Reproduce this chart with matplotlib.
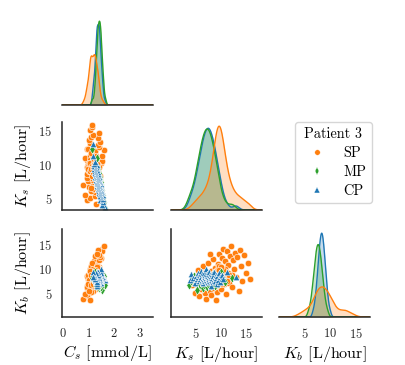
import numpy as np
import matplotlib
matplotlib.use('Agg')
import matplotlib.pyplot as plt
from matplotlib.lines import Line2D

plt.rcParams['font.family'] = 'serif'
plt.rcParams['font.serif'] = ['cmr10']
plt.rcParams['mathtext.fontset'] = 'cm'
plt.rcParams['axes.formatter.use_mathtext'] = True

# Data (SP / MP / CP for patient 3)
groups = ['SP', 'MP', 'CP']

sp_cs = [1.29, 0.95, 1.06, 1.24, 0.85, 1.24, 1.10, 1.22, 1.01, 1.40,
         0.80, 1.19, 1.21, 0.97, 1.17, 1.12, 0.92, 1.35, 1.43, 1.15,
         0.94, 1.37, 1.05, 1.03, 1.33, 1.09, 1.12, 1.29, 0.92, 1.38,
         1.10, 1.30, 1.40, 0.98, 1.07, 1.47, 1.17, 1.51, 0.95, 1.23,
         1.23, 1.30, 0.86, 1.54, 1.05, 1.24, 1.19, 1.25, 1.26, 1.59,
         0.92, 1.41, 1.07, 1.38, 1.05, 1.46, 1.03, 1.35, 1.11, 1.18,
         1.39, 1.05, 1.14, 1.12, 1.34, 1.10, 1.28, 1.07, 1.31, 1.13,
         1.25, 1.22, 1.10, 1.07, 1.43, 0.98, 1.10, 1.28, 1.22, 1.16,
         1.04, 1.34, 1.13, 1.31, 1.01, 1.37, 1.16, 1.25, 1.07, 1.31,
         1.19, 0.98, 1.37, 1.13, 1.28, 1.04, 1.22, 1.40, 1.10, 1.19,
         1.22, 1.31, 1.13, 1.25, 1.34, 1.19, 1.28, 1.10, 1.22, 1.31,
         1.16, 1.25]
sp_ks = [4.2, 4.8, 5.1, 5.5, 5.6, 6.0, 6.2, 6.4, 6.8, 6.9,
         7.1, 7.2, 7.4, 7.6, 7.8, 8.0, 8.1, 8.3, 8.4, 8.6,
         8.7, 8.9, 9.0, 9.1, 9.2, 9.3, 9.4, 9.5, 9.6, 9.7,
         9.8, 9.9, 10.0, 10.1, 10.2, 10.3, 10.4, 10.5, 10.6, 10.7,
         10.8, 10.9, 11.0, 11.2, 11.3, 11.5, 11.6, 11.8, 12.0, 12.1,
         12.3, 12.5, 12.7, 12.9, 13.1, 13.3, 13.6, 13.8, 14.0, 14.3,
         14.6, 15.0, 15.4, 15.8, 7.9, 6.6, 8.5, 9.0, 9.8, 10.4,
         8.2, 11.0, 9.3, 10.1, 7.5, 12.2, 9.6, 10.7, 8.8, 9.9,
         10.6, 8.1, 11.4, 9.5, 10.2, 8.9, 9.2, 9.7, 10.3, 8.7,
         10.9, 9.4, 10.0, 8.4, 11.2, 9.0, 10.5, 9.6, 11.7, 8.9,
         9.1, 9.4, 9.8, 10.2, 9.6, 8.9, 10.5, 9.3, 9.9, 10.1,
         9.5, 9.7]
sp_kb = [6.8, 5.2, 8.5, 9.9, 4.4, 6.0, 7.6, 10.6, 5.1, 8.9,
         3.9, 6.7, 11.3, 7.9, 5.6, 9.6, 4.6, 7.2, 12.0, 8.4,
         6.1, 10.2, 3.6, 7.7, 9.1, 5.4, 11.0, 8.0, 6.6, 13.1,
         8.8, 7.3, 10.5, 5.9, 9.4, 12.3, 7.9, 14.2, 8.6, 6.9,
         11.6, 9.9, 4.9, 13.6, 8.2, 10.8, 7.1, 12.7, 9.0, 14.8,
         6.3, 11.9, 10.1, 13.3, 8.4, 12.4, 5.6, 14.0, 10.7, 7.6,
         12.9, 9.3, 11.2, 8.0, 13.0, 9.3, 8.0, 8.6, 7.9, 9.0,
         8.9, 8.5, 9.6, 8.2, 8.3, 8.7, 7.4, 9.3, 8.2, 8.9,
         7.8, 7.6, 9.2, 8.4, 7.7, 9.4, 7.6, 8.9, 9.5, 7.3,
         10.0, 6.9, 10.3, 8.5, 7.5, 9.7, 8.0, 9.2, 8.7, 6.6,
         7.4, 10.1, 6.9, 9.7, 10.6, 7.2, 9.9, 6.8, 8.5, 10.4,
         7.0, 9.8]

mp_cs = [1.66, 1.55, 1.59, 1.47, 1.58, 1.52, 1.46, 1.57, 1.48, 1.53,
         1.42, 1.49, 1.53, 1.42, 1.49, 1.38, 1.50, 1.44, 1.39, 1.50,
         1.41, 1.47, 1.36, 1.43, 1.47, 1.37, 1.43, 1.33, 1.44, 1.39,
         1.33, 1.45, 1.35, 1.40, 1.30, 1.36, 1.41, 1.30, 1.36, 1.25,
         1.36, 1.30, 1.24, 1.31, 1.15]
mp_ks = [3.7, 4.0, 4.60, 4.89, 5.12, 5.33, 5.50, 5.65, 5.80, 5.94,
         6.06, 6.18, 6.30, 6.42, 6.52, 6.62, 6.72, 6.82, 6.93, 7.01,
         7.11, 7.20, 7.30, 7.40, 7.49, 7.59, 7.67, 7.78, 7.88, 7.98,
         8.08, 8.18, 8.30, 8.42, 8.54, 8.66, 8.80, 8.95, 9.10, 9.27,
         9.48, 9.71, 10.0, 10.9, 12.3]
mp_kb = [6.67, 7.60, 8.53, 7.07, 7.87, 5.77, 7.38, 8.18, 6.75, 7.65,
         8.62, 7.13, 7.92, 6.14, 7.42, 8.24, 6.82, 7.69, 8.74, 7.18,
         7.97, 6.33, 7.46, 8.30, 6.90, 7.74, 8.87, 7.23, 8.02, 6.46,
         7.51, 8.38, 6.96, 7.78, 9.06, 7.28, 8.07, 6.58, 7.55, 8.45,
         7.02, 7.82, 9.43, 7.33, 8.13]

cp_cs = [1.64, 1.51, 1.56, 1.44, 1.56, 1.50, 1.43, 1.56, 1.44, 1.51,
         1.39, 1.47, 1.52, 1.41, 1.47, 1.35, 1.48, 1.43, 1.37, 1.50,
         1.39, 1.44, 1.34, 1.42, 1.47, 1.35, 1.42, 1.31, 1.43, 1.38,
         1.33, 1.46, 1.34, 1.41, 1.30, 1.37, 1.42, 1.31, 1.38, 1.26,
         1.39, 1.34, 1.28, 1.41, 1.30, 1.35, 1.25, 1.31, 1.37, 1.26,
         1.31, 1.21, 1.33, 1.28, 1.21, 1.33, 1.21, 1.26, 1.16, 1.17]
cp_ks = [3.8, 4.17, 4.56, 4.83, 5.05, 5.24, 5.39, 5.55, 5.68, 5.80,
         5.92, 6.02, 6.12, 6.21, 6.31, 6.40, 6.48, 6.57, 6.65, 6.74,
         6.80, 6.89, 6.96, 7.04, 7.11, 7.18, 7.25, 7.33, 7.40, 7.47,
         7.53, 7.60, 7.67, 7.75, 7.82, 7.89, 7.96, 8.04, 8.11, 8.20,
         8.26, 8.35, 8.43, 8.52, 8.60, 8.69, 8.79, 8.88, 8.98, 9.08,
         9.20, 9.32, 9.45, 9.58, 9.75, 9.94, 10.16, 10.42, 11.2, 13.0]
cp_kb = [7.69, 8.91, 8.17, 7.09, 8.59, 7.88, 9.17, 8.31, 7.50, 8.75,
         8.05, 9.67, 8.46, 7.73, 8.95, 8.20, 7.20, 8.61, 7.95, 9.23,
         8.34, 7.55, 8.79, 8.08, 9.97, 8.49, 7.77, 9.00, 8.23, 7.29,
         8.65, 7.92, 9.31, 8.37, 7.60, 8.83, 8.11, 6.63, 8.52, 7.81,
         9.05, 8.26, 7.37, 8.68, 7.99, 9.39, 8.40, 7.65, 8.87, 8.14,
         6.93, 8.55, 7.85, 9.11, 8.29, 7.43, 8.72, 8.01, 9.50, 8.43]

data = {
    'SP': [sp_cs, sp_ks, sp_kb],
    'MP': [mp_cs, mp_ks, mp_kb],
    'CP': [cp_cs, cp_ks, cp_kb],
}
colors = {'SP': '#ff7f0e', 'MP': '#2ca02c', 'CP': '#1f77b4'}
markers = {'SP': 'o', 'MP': 'd', 'CP': '^'}
var_labels = [r'$C_s$ [mmol/L]', r'$K_s$ [L/hour]', r'$K_b$ [L/hour]']
col_lims = [(-0.04, 3.52), (0.1, 18.2), (-0.1, 17.8)]
row_lims = [None, (3.4, 16.2), (0.2, 18.2)]


def kde(vals, grid, adjust=0.8):
    vals = np.asarray(vals)
    bw = adjust * vals.std(ddof=1) * len(vals) ** (-1 / 5)
    d = (grid[:, None] - vals[None, :]) / bw
    return np.exp(-0.5 * d ** 2).sum(axis=1) / (len(vals) * bw * np.sqrt(2 * np.pi))


fig = plt.figure(figsize=(4.05, 3.65), dpi=100)

lefts = [0.1531, 0.4222, 0.6889]
bottoms = [0.7123, 0.4247, 0.1315]
w, h = 0.2247, 0.2411
spine_col = '#262626'

axes = {}
for i in range(3):
    for j in range(i + 1):
        ax = fig.add_axes([lefts[j], bottoms[i], w, h])
        axes[i, j] = ax
        for s in ['top', 'right']:
            ax.spines[s].set_visible(False)
        for s in ['left', 'bottom']:
            ax.spines[s].set_color(spine_col)
            ax.spines[s].set_linewidth(1.1)
        ax.tick_params(length=0, pad=7, labelsize=9, colors='#262626')
        ax.set_xlim(col_lims[j])
        if i != 2:
            ax.tick_params(labelbottom=False)
        else:
            ax.set_xlabel(var_labels[j], fontsize=11.5, labelpad=2)

        if i == j:
            # diagonal: kernel density per group
            ax.spines['left'].set_visible(False)
            ax.set_yticks([])
            grid = np.linspace(col_lims[j][0], col_lims[j][1], 400)
            top = 0
            for g in ['CP', 'MP', 'SP']:
                dens = kde(data[g][j], grid)
                ax.fill_between(grid, 0, dens, color=colors[g], alpha=0.25, lw=0)
                ax.plot(grid, dens, color=colors[g], lw=1.0)
                top = max(top, dens.max())
            ax.set_ylim(0, top * 1.05)
        else:
            for g in groups:
                ax.scatter(data[g][j], data[g][i], s=22, marker=markers[g],
                           color=colors[g], edgecolor='white', linewidth=0.4)
            ax.set_ylim(row_lims[i])
            if j == 0:
                ax.set_ylabel(var_labels[i], fontsize=11.5, labelpad=4)
            else:
                ax.tick_params(labelleft=False)

for i in (1, 2):
    axes[i, 0].set_yticks([5, 10, 15])
axes[2, 0].set_xticks([0, 1, 2, 3])
axes[2, 1].set_xticks([5, 10, 15])
axes[2, 2].set_xticks([5, 10, 15])

handles = [Line2D([], [], ls='', marker=markers[g], color=colors[g],
                  markeredgecolor='white', markeredgewidth=0.3, markersize=4)
           for g in groups]
fig.legend(handles, groups, title='Patient 3', loc='upper left',
           bbox_to_anchor=(0.728, 0.666), borderaxespad=0,
           fontsize=10.3, title_fontsize=10.3,
           handlelength=2.24, handletextpad=0.74, labelspacing=0.35,
           borderpad=0.4, edgecolor='0.8', fancybox=True)

fig.savefig('out.png', dpi=100)
